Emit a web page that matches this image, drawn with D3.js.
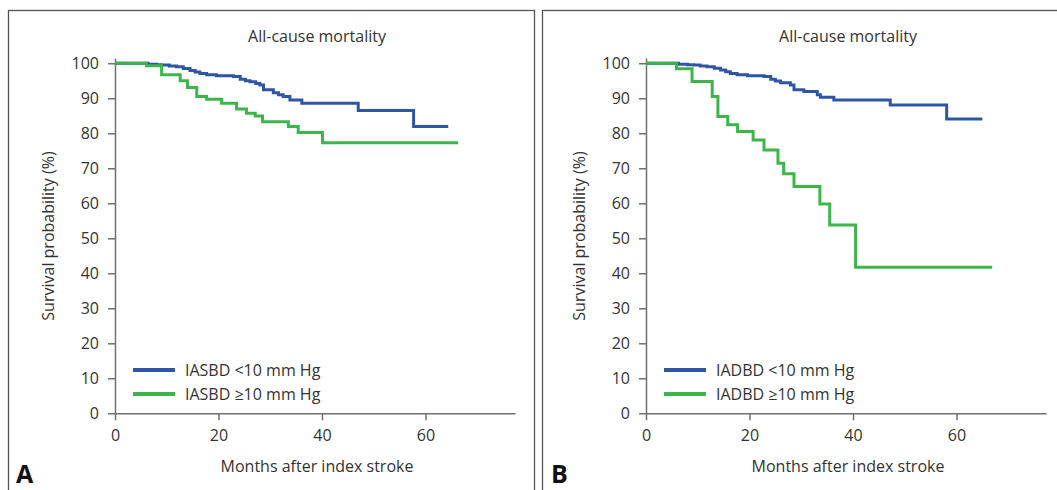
<!DOCTYPE html>
<html>
<head>
<meta charset="utf-8">
<script src="https://cdn.jsdelivr.net/npm/d3@7"></script>
<style>
  html, body { margin: 0; padding: 0; background: #fff; }
  svg { display: block; }
  text { font-family: "Open Sans", "Noto Sans", sans-serif; fill: #333; }
</style>
</head>
<body>
<script>
// ---- data ----
const title = "All-cause mortality";
const xLabel = "Months after index stroke";
const yLabel = "Survival probability (%)";
const xTicks = [0, 20, 40, 60];
const yTicks = [0, 10, 20, 30, 40, 50, 60, 70, 80, 90, 100];

const panelLabels = ["A", "B"];
const legendA = ["IASBD <10 mm Hg", "IASBD \u226510 mm Hg"];
const legendB = ["IADBD <10 mm Hg", "IADBD \u226510 mm Hg"];

// Panel A, IASBD < 10
const aLowMonths = [0, 6.4, 8.0, 9.0, 10.5, 11.9, 13.2, 14.5, 15.5, 16.4, 17.7, 19.6, 22.9, 24.2, 25.2, 26.1, 27.2, 28.0, 28.7, 30.6, 31.6, 32.5, 33.8, 36.1, 47.0, 57.7, 64.4];
const aLowSurv   = [100, 99.7, 99.6, 99.5, 99.2, 99.0, 98.5, 97.9, 97.5, 97.1, 96.7, 96.4, 96.2, 95.4, 95.0, 94.7, 94.2, 93.8, 92.4, 91.6, 91.0, 90.5, 89.5, 88.6, 86.5, 81.9, 81.9];
// Panel A, IASBD >= 10
const aHighMonths = [0, 6.1, 9.0, 12.6, 14.0, 15.8, 17.7, 20.6, 23.5, 25.4, 27.1, 28.5, 33.5, 35.4, 40.1, 66.3];
const aHighSurv   = [100, 99.3, 96.7, 95.0, 93.1, 90.5, 89.7, 88.6, 86.9, 85.7, 84.9, 83.3, 81.9, 80.2, 77.3, 77.3];
// Panel B, IADBD < 10
const bLowMonths = [0, 6.3, 8.0, 9.2, 10.5, 11.8, 13.2, 14.4, 15.4, 16.3, 17.6, 19.6, 22.8, 24.1, 25.0, 26.0, 27.9, 28.6, 30.5, 33.1, 33.7, 36.3, 47.2, 58.1, 65.0];
const bLowSurv   = [100, 99.7, 99.6, 99.5, 99.2, 99.0, 98.6, 98.1, 97.6, 97.1, 96.7, 96.4, 96.2, 95.4, 94.9, 94.4, 93.8, 92.4, 91.9, 91.0, 90.3, 89.5, 88.1, 84.1, 84.1];
// Panel B, IADBD >= 10
const bHighMonths = [0, 5.9, 8.9, 12.8, 13.9, 15.8, 17.7, 20.7, 22.8, 25.5, 26.6, 28.6, 33.6, 35.5, 40.5, 66.9];
const bHighSurv   = [100, 98.4, 94.8, 90.5, 84.8, 82.4, 80.5, 78.1, 75.2, 71.4, 68.4, 64.8, 59.8, 53.8, 41.7, 41.7];

const BLUE = "#2f56a5";
const GREEN = "#3db54a";
const AXIS = "#707070";

const W = 1057, H = 490;
const svg = d3.select("body").append("svg").attr("width", W).attr("height", H);

// panel frames
svg.append("rect").attr("x", 8.5).attr("y", 10.5).attr("width", 526).attr("height", 500)
  .attr("fill", "none").attr("stroke", "#555").attr("stroke-width", 1.3);
svg.append("rect").attr("x", 542.5).attr("y", 10.5).attr("width", 530).attr("height", 500)
  .attr("fill", "none").attr("stroke", "#555").attr("stroke-width", 1.3);

const panels = [
  { x0: 115, label: panelLabels[0], legend: legendA, low: [aLowMonths, aLowSurv], high: [aHighMonths, aHighSurv], labelX: 16 },
  { x0: 646, label: panelLabels[1], legend: legendB, low: [bLowMonths, bLowSurv], high: [bHighMonths, bHighSurv], labelX: 551 }
];

const pxPerMonth = 5.175;
const y = d3.scaleLinear().domain([0, 101.5]).range([413.3, 58]);

panels.forEach(p => {
  const x = d3.scaleLinear().domain([0, 77.3]).range([p.x0, p.x0 + 77.3 * pxPerMonth]);
  const g = svg.append("g");

  // title
  g.append("text").attr("x", p.x0 + 202).attr("y", 42).attr("text-anchor", "middle")
    .attr("font-size", 16).text(title);

  // y axis
  const ya = g.append("g").attr("transform", `translate(${p.x0},0)`)
    .call(d3.axisLeft(y).tickValues(yTicks).tickSize(7).tickSizeOuter(0).tickPadding(9));
  // x axis
  const xa = g.append("g").attr("transform", `translate(0,${y(0)})`)
    .call(d3.axisBottom(x).tickValues(xTicks).tickSize(7).tickSizeOuter(0).tickPadding(9));
  [ya, xa].forEach(a => {
    a.select(".domain").attr("stroke", AXIS).attr("stroke-width", 1.5);
    a.selectAll(".tick line").attr("stroke", AXIS).attr("stroke-width", 1.5);
    a.selectAll(".tick text").attr("font-size", 16).attr("fill", "#333")
      .attr("font-family", "'Open Sans', 'Noto Sans', sans-serif");
  });

  // axis labels
  g.append("text").attr("x", p.x0 + 202).attr("y", 472).attr("text-anchor", "middle")
    .attr("font-size", 16).text(xLabel);
  g.append("text").attr("transform", `translate(${p.x0 - 61},236) rotate(-90)`)
    .attr("text-anchor", "middle").attr("font-size", 16).text(yLabel);

  // curves
  const line = d3.line().curve(d3.curveStepAfter).x(d => x(d[0])).y(d => y(d[1]));
  const series = [
    { data: d3.zip(p.low[0], p.low[1]), color: BLUE },
    { data: d3.zip(p.high[0], p.high[1]), color: GREEN }
  ];
  series.forEach(s => {
    g.append("path").attr("d", line(s.data)).attr("fill", "none")
      .attr("stroke", s.color).attr("stroke-width", 3);
  });

  // legend
  const lg = g.append("g");
  [BLUE, GREEN].forEach((c, i) => {
    const ly = 370 + i * 24;
    lg.append("line").attr("x1", p.x0 + 18).attr("x2", p.x0 + 60).attr("y1", ly).attr("y2", ly)
      .attr("stroke", c).attr("stroke-width", 4);
    lg.append("text").attr("x", p.x0 + 70).attr("y", ly + 6).attr("font-size", 16).text(p.legend[i]);
  });

  // panel letter
  g.append("text").attr("x", p.labelX).attr("y", 483).attr("font-size", 25)
    .attr("font-weight", "bold").attr("fill", "#111").style("fill", "#111").text(p.label);
});
</script>
</body>
</html>
